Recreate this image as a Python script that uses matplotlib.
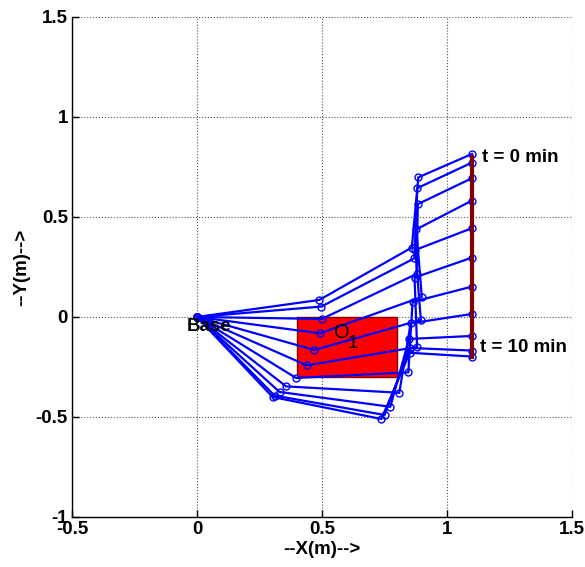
import matplotlib

matplotlib.use("Agg")

import matplotlib.pyplot as plt  # noqa: E402
from matplotlib.patches import Rectangle  # noqa: E402

plt.rcParams["font.family"] = ["Liberation Sans", "DejaVu Sans"]

# arm snapshots t = 0 .. 10 min: base -> joint1 -> joint2 -> joint3 -> end effector
base_x, base_y = 0.0, 0.0
j1_x = [0.489, 0.497, 0.499, 0.492, 0.469, 0.439, 0.396, 0.356, 0.330, 0.310, 0.302]
j1_y = [0.085, 0.052, -0.010, -0.082, -0.165, -0.242, -0.305, -0.347, -0.375, -0.393, -0.400]
j2_x = [0.859, 0.869, 0.878, 0.899, 0.895, 0.880, 0.845, 0.809, 0.773, 0.750, 0.737]
j2_y = [0.347, 0.293, 0.215, 0.100, -0.015, -0.150, -0.277, -0.379, -0.449, -0.490, -0.510]
j3_x = [0.885, 0.881, 0.883, 0.877, 0.873, 0.870, 0.862, 0.854, 0.848, 0.850, 0.851]
j3_y = [0.698, 0.644, 0.564, 0.438, 0.335, 0.197, 0.075, -0.032, -0.110, -0.155, -0.179]
ee_x = [1.10, 1.10, 1.10, 1.10, 1.10, 1.10, 1.10, 1.10, 1.10, 1.10, 1.10]
ee_y = [0.815, 0.772, 0.694, 0.582, 0.444, 0.297, 0.152, 0.015, -0.095, -0.168, -0.198]

# obstacle O1 (x0, y0, width, height) and the end effector's target path
obstacle = (0.4, -0.3, 0.4, 0.3)
path_x = [1.1, 1.1]
path_y = [-0.2, 0.8]

xticks = [-0.5, 0, 0.5, 1, 1.5]
yticks = [-1, -0.5, 0, 0.5, 1, 1.5]

FS = 13.5

fig = plt.figure(figsize=(5.85, 5.67), dpi=100)
ax = fig.add_axes([0.123, 0.0882, 0.855, 0.882])

ax.add_patch(Rectangle(obstacle[:2], obstacle[2], obstacle[3],
                       facecolor="#ff0000", edgecolor="#8b0000", lw=1.0, zorder=2))

for i in range(len(ee_x)):
    xs = [base_x, j1_x[i], j2_x[i], j3_x[i], ee_x[i]]
    ys = [base_y, j1_y[i], j2_y[i], j3_y[i], ee_y[i]]
    ax.plot(xs, ys, "o-", color="#0000ff", lw=1.6, ms=5,
            mfc="none", mec="#0000ff", mew=1.0, zorder=3)

ax.plot(path_x, path_y, color="#7f0000", lw=3, zorder=4)

ax.text(0.05, -0.05, "Base", fontsize=FS, weight="bold", ha="center", va="center", zorder=5)
# obstacle label O with a large, dropped subscript 1
ax.text(0.578, -0.078, "O", fontsize=FS + 1, ha="center", va="center", zorder=5)
ax.text(0.624, -0.135, "1", fontsize=FS, ha="center", va="center", zorder=5)
ax.text(1.14, 0.795, "t = 0 min", fontsize=FS, weight="bold", ha="left", va="center")
ax.text(1.13, -0.152, "t = 10 min", fontsize=FS, weight="bold", ha="left", va="center")

ax.set_xlim(-0.5, 1.5)
ax.set_ylim(-1, 1.5)
ax.set_xticks(xticks)
ax.set_yticks(yticks)
ax.set_xticklabels([f"{v:g}" for v in xticks], fontsize=FS, weight="bold")
ax.set_yticklabels([f"{v:g}" for v in yticks], fontsize=FS, weight="bold")
ax.tick_params(direction="in", length=5, width=1, pad=3)
ax.grid(True, linestyle=":", color="#555555", lw=0.8)
ax.set_axisbelow(True)
for side in ("top", "right"):
    ax.spines[side].set_visible(False)
for side in ("left", "bottom"):
    ax.spines[side].set_linewidth(1.0)

ax.set_xlabel("--X(m)-->", fontsize=FS, weight="bold", labelpad=2)
ax.set_ylabel("--Y(m)-->", fontsize=FS, weight="bold", labelpad=4)

fig.savefig("out.png", dpi=100)
